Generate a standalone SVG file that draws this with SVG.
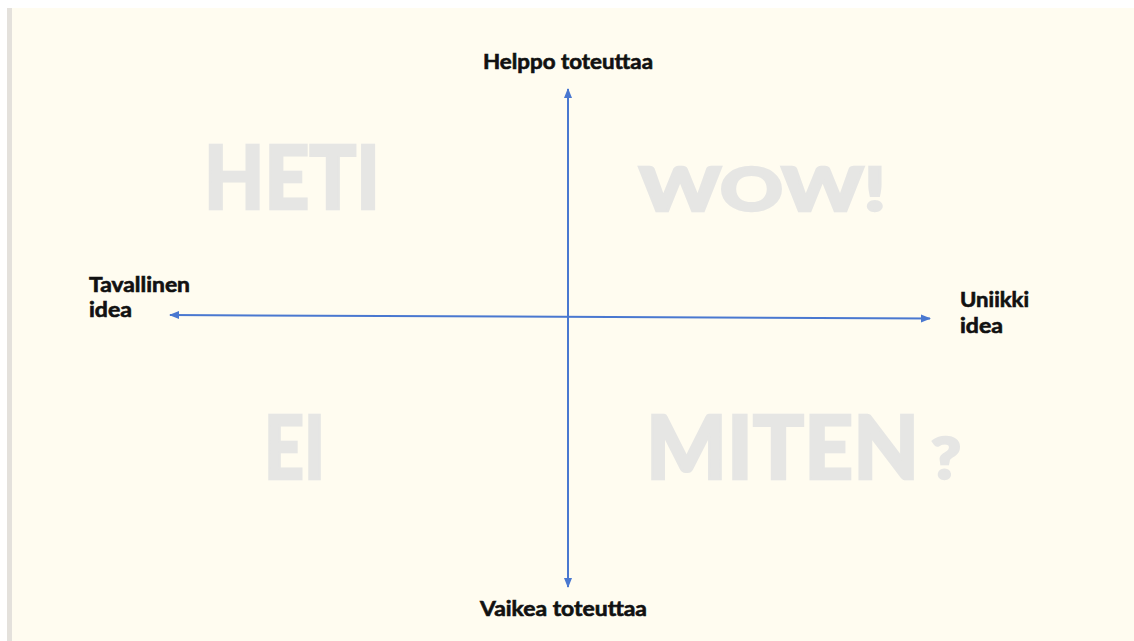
<svg xmlns="http://www.w3.org/2000/svg" width="1134" height="641" viewBox="0 0 1134 641">
<style>
.lbl{font-family:Lato,"Open Sans","Liberation Sans",sans-serif;font-weight:700;font-size:20px;fill:#111111;stroke:#111111;stroke-width:0.6}
.big{font-family:Lato,"Open Sans","Liberation Sans",sans-serif;font-weight:900;fill:#E6E6E4;stroke:#E6E6E4;stroke-width:2.5;stroke-linejoin:miter}
.ax{stroke:#4A78D0;stroke-width:2;fill:none}
</style>
<defs>
<marker id="ah" viewBox="0 0 10 10" refX="9" refY="5" markerWidth="5" markerHeight="5" orient="auto-start-reverse" markerUnits="strokeWidth">
<path d="M0,1 L10,5 L0,9 z" fill="#4A78D0"/>
</marker>
</defs>
<rect x="0" y="0" width="1134" height="641" fill="#FFFFFF"/>
<rect x="7" y="8" width="5" height="633" fill="#E4E1DC"/>
<rect x="12" y="8" width="1122" height="633" fill="#FFFCF0"/>
<g id="quadrants">
<text class="big" x="204" y="209" font-size="87" textLength="176" lengthAdjust="spacingAndGlyphs">HETI</text>
<text class="big" x="639" y="211" font-size="61" textLength="247" lengthAdjust="spacingAndGlyphs">WOW!</text>
<text class="big" x="264" y="479" font-size="87" textLength="61" lengthAdjust="spacingAndGlyphs">EI</text>
<text class="big" x="646" y="479" font-size="87" textLength="273" lengthAdjust="spacingAndGlyphs">MITEN</text>
<text class="big" x="931" y="479" font-size="58" textLength="30" lengthAdjust="spacingAndGlyphs">?</text>
</g>
<g id="connectors">
<line class="ax" x1="568" y1="89" x2="568" y2="587" marker-start="url(#ah)" marker-end="url(#ah)"/>
<line class="ax" x1="170" y1="315" x2="930" y2="318.5" marker-start="url(#ah)" marker-end="url(#ah)"/>
</g>
<g id="top-label"><text class="lbl" x="483" y="69" textLength="170" lengthAdjust="spacingAndGlyphs">Helppo toteuttaa</text></g>
<g id="bottom-label"><text class="lbl" x="480" y="616" textLength="167" lengthAdjust="spacingAndGlyphs">Vaikea toteuttaa</text></g>
<g id="left-label"><text class="lbl" x="89" y="292" textLength="101" lengthAdjust="spacingAndGlyphs">Tavallinen</text><text class="lbl" x="89" y="317" textLength="43" lengthAdjust="spacingAndGlyphs">idea</text></g>
<g id="right-label"><text class="lbl" x="960" y="307" textLength="69" lengthAdjust="spacingAndGlyphs">Uniikki</text><text class="lbl" x="960" y="333" textLength="43" lengthAdjust="spacingAndGlyphs">idea</text></g>
</svg>
